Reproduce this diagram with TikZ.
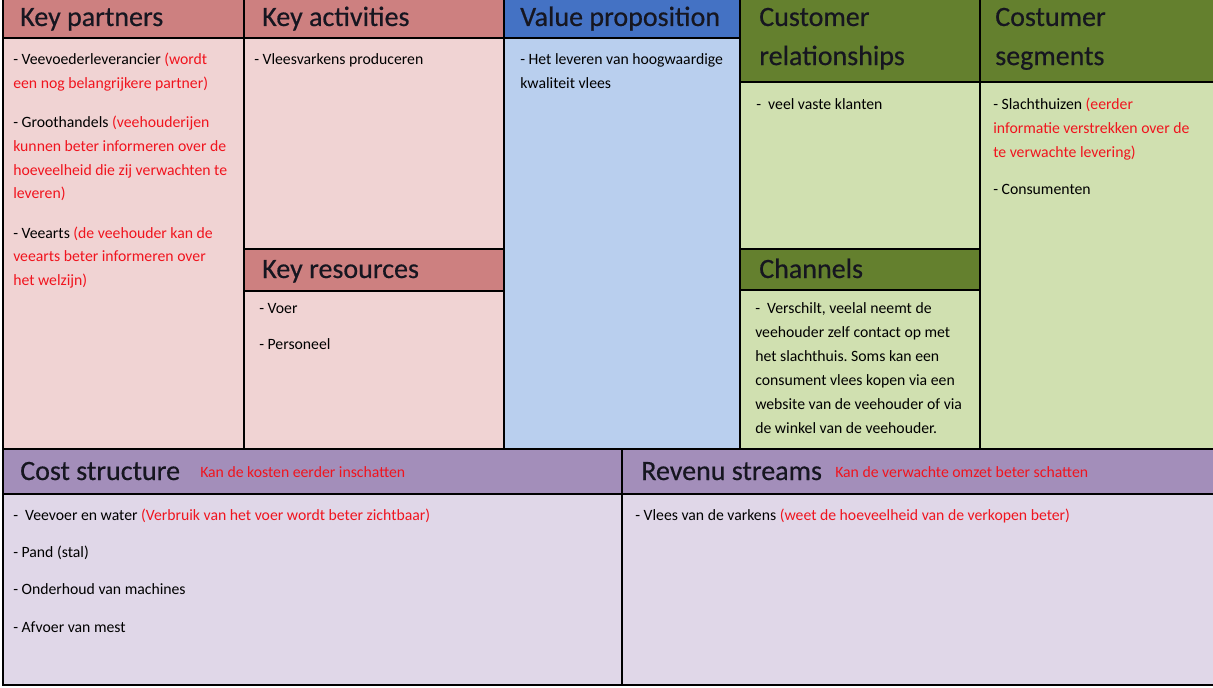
\documentclass[tikz,border=0pt]{standalone}
\usepackage{fontspec}
\setmainfont{Carlito}
\newfontfamily\hdrfont[FakeBold=0.5]{Carlito}
\definecolor{kred}{RGB}{205,128,128}
\definecolor{kredl}{RGB}{240,211,211}
\definecolor{kblue}{RGB}{68,114,196}
\definecolor{kbluel}{RGB}{185,207,238}
\definecolor{kgreen}{RGB}{100,128,46}
\definecolor{kgreenl}{RGB}{208,224,176}
\definecolor{kpurp}{RGB}{163,142,186}
\definecolor{kpurpl}{RGB}{224,215,232}
\definecolor{rtxt}{RGB}{240,20,30}
\definecolor{htxt}{RGB}{22,22,32}
\newcommand{\rd}[1]{\textcolor{rtxt}{#1}}
\newcommand{\tb}[1]{\begin{tabular}[t]{@{}l@{}}#1\end{tabular}}
\frenchspacing
\begin{document}
\begin{tikzpicture}[x=0.75pt,y=-0.75pt,
  hdr/.style={anchor=base west, inner sep=0, text=htxt,
    font=\hdrfont\fontsize{21}{29.3}\selectfont},
  body/.style={anchor=base west, inner sep=0,
    font=\fontsize{11.8}{17.7}\selectfont},
  grid/.style={line width=1.7pt, line cap=rect}]
\useasboundingbox (0,0) rectangle (1213,688);
\fill[white] (0,0) rectangle (1213,688);
% fills
\fill[kred]    (3,0) rectangle (244,38);
\fill[kredl]   (3,38) rectangle (244,449);
\fill[kred]    (244,0) rectangle (504,38);
\fill[kredl]   (244,38) rectangle (504,249);
\fill[kred]    (244,249) rectangle (504,291);
\fill[kredl]   (244,291) rectangle (504,449);
\fill[kblue]   (504,0) rectangle (740,38);
\fill[kbluel]  (504,38) rectangle (740,449);
\fill[kgreen]  (740,0) rectangle (1213,82);
\fill[kgreenl] (740,82) rectangle (1213,449);
\fill[kgreen]  (740,249) rectangle (980,290);
\fill[kpurp]   (3,449) rectangle (1213,494);
\fill[kpurpl]  (3,494) rectangle (1213,685);
% grid lines
\draw[grid] (3,0) -- (3,685) -- (1213,685);
\draw[grid] (244,0) -- (244,449);
\draw[grid] (504,0) -- (504,449);
\draw[grid] (740,0) -- (740,449);
\draw[grid] (980,0) -- (980,449);
\draw[grid] (622,449) -- (622,685);
\draw[grid] (3,38) -- (740,38);
\draw[grid] (740,82) -- (1213,82);
\draw[grid] (244,249) -- (504,249);
\draw[grid] (244,291) -- (504,291);
\draw[grid] (740,249) -- (980,249);
\draw[grid] (740,290) -- (980,290);
\draw[grid] (3,449) -- (1213,449);
\draw[grid] (3,494) -- (1213,494);
% headers
\node[hdr] (hkp) at (20,26) {Key partners};
\node[hdr] (hka) at (262,26) {Key activities};
\node[hdr] (hkr) at (262,278) {Key resources};
\node[hdr] (hvp) at (520,26) {Value proposition};
\node[hdr] (hcr) at (759,26) {\tb{Customer\\relationships}};
\node[hdr] (hcs) at (995,26) {\tb{Costumer\\segments}};
\node[hdr] (hch) at (759,278) {Channels};
\node[hdr] (hco) at (20,480) {Cost structure};
\node[body] (rco) at (200,477) {\rd{Kan de kosten eerder inschatten}};
\node[hdr] (hrs) at (641,480) {Revenu streams};
\node[body] (rrs) at (835,477) {\rd{Kan de verwachte omzet beter schatten}};
% bodies
\node[body] (bkp) at (13,65) {\tb{- Veevoederleverancier \rd{(wordt}\\
  \rd{een nog belangrijkere partner)}\\[11.8pt]
  - Groothandels \rd{(veehouderijen}\\
  \rd{kunnen beter informeren over de}\\
  \rd{hoeveelheid die zij verwachten te}\\
  \rd{leveren)}\\[11.8pt]
  - Veearts \rd{(de veehouder kan de}\\
  \rd{veearts beter informeren over}\\
  \rd{het welzijn)}}};
\node[body] (bka) at (254,65) {- Vleesvarkens produceren};
\node[body] (bkr) at (259,313) {\tb{- Voer\\[10pt] - Personeel}};
\node[body] (bvp) at (520,65) {\tb{- Het leveren van hoogwaardige\\ kwaliteit vlees}};
\node[body] (bcr) at (756,110) {-\ \ veel vaste klanten};
\node[body] (bcs) at (993,110) {\tb{- Slachthuizen \rd{(eerder}\\
  \rd{informatie verstrekken over de}\\
  \rd{te verwachte levering)}\\[10pt]
  - Consumenten}};
\node[body, font=\fontsize{11.8}{18}\selectfont] (bch) at (755,313) {\tb{-\ \ Verschilt, veelal neemt de\\
  veehouder zelf contact op met\\
  het slachthuis. Soms kan een\\
  consument vlees kopen via een\\
  website van de veehouder of via\\
  de winkel van de veehouder.}};
\node[body] (bco) at (13,520) {\tb{-\ \ Veevoer en water \rd{(Verbruik van het voer wordt beter zichtbaar)}\\[10.3pt]
  - Pand (stal)\\[10.3pt]
  - Onderhoud van machines\\[10.3pt]
  - Afvoer van mest}};
\node[body] (brs) at (635,520) {- Vlees van de varkens \rd{(weet de hoeveelheid van de verkopen beter)}};
\end{tikzpicture}
\end{document}
